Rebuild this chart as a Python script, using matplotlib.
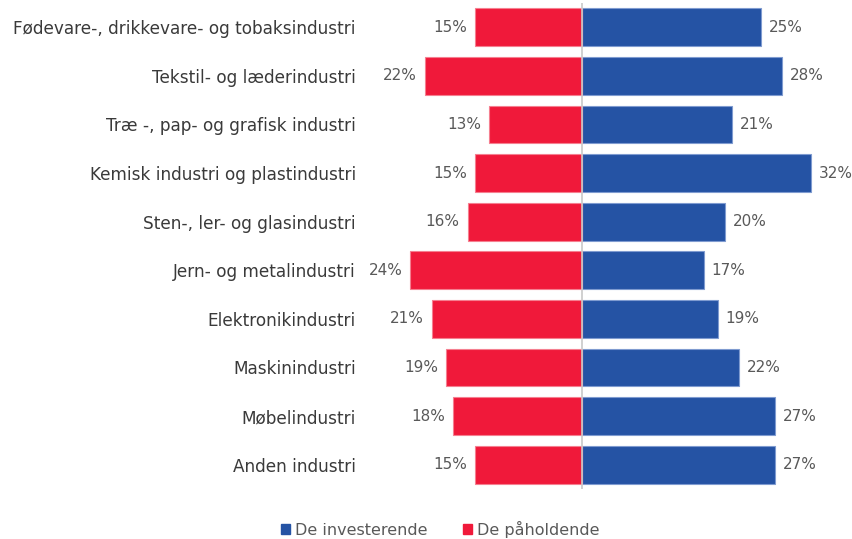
import matplotlib.pyplot as plt
from matplotlib.patches import Patch

# industries, top to bottom
categories = ['Fødevare-, drikkevare- og tobaksindustri', 'Tekstil- og læderindustri',
              'Træ -, pap- og grafisk industri', 'Kemisk industri og plastindustri',
              'Sten-, ler- og glasindustri', 'Jern- og metalindustri', 'Elektronikindustri',
              'Maskinindustri', 'Møbelindustri', 'Anden industri']
investerende = [25, 28, 21, 32, 20, 17, 19, 22, 27, 27]
paaholdende = [15, 22, 13, 15, 16, 24, 21, 19, 18, 15]

blue = '#2553a4'
red = '#f0193a'
grey = '#595959'

plt.rcParams['font.family'] = ['DejaVu Sans']

fig = plt.figure(figsize=(8.53, 5.39), dpi=100)
ax = fig.add_axes([360/853, 1-489/539, 1-360/853, 486/539])

y = list(range(len(categories)))
ax.barh(y, investerende, height=0.78, color=blue, edgecolor='#7f9bd0', linewidth=0.8)
ax.barh(y, [-v for v in paaholdende], height=0.78, color=red, edgecolor='#f57f90', linewidth=0.8)

for i in y:
    ax.text(investerende[i] + 1.1, i, f'{investerende[i]}%', va='center', ha='left',
            fontsize=11, color=grey)
    ax.text(-paaholdende[i] - 1.1, i, f'{paaholdende[i]}%', va='center', ha='right',
            fontsize=11, color=grey)

ax.axvline(0, color='#c8c8c8', linewidth=1.2, zorder=3)

ax.set_xlim(-(582-360)/7.15, (853-582)/7.15)
ax.set_ylim(len(categories) - 0.5, -0.5)
ax.set_yticks(y)
ax.set_yticklabels(categories, fontsize=12.2, color='#3a3a3a')
ax.tick_params(axis='y', length=0, pad=3)
ax.set_xticks([])
for s in ax.spines.values():
    s.set_visible(False)

handles = [Patch(color=blue, label='De investerende'), Patch(color=red, label='De påholdende')]
fig.legend(handles=handles, loc='center', bbox_to_anchor=(440/853, 1-529/539), ncol=2,
           frameon=False, fontsize=11.5, handlelength=0.6, handleheight=0.6,
           handletextpad=0.3, columnspacing=2.2, labelcolor=grey)

fig.savefig('out.png', dpi=100)
